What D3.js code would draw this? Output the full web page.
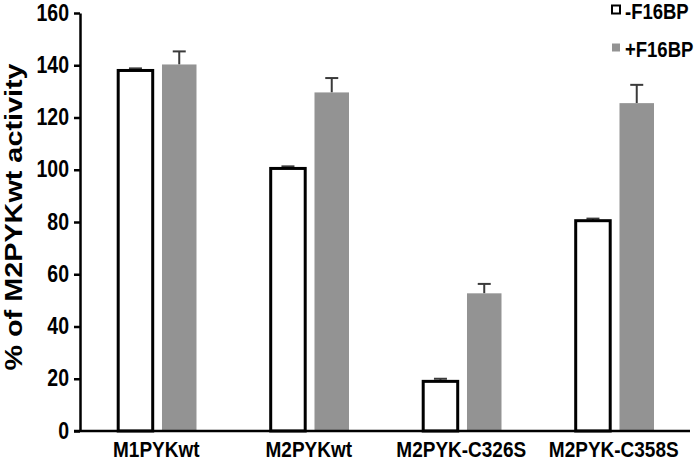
<!DOCTYPE html>
<html>
<head>
<meta charset="utf-8">
<script src="https://cdn.jsdelivr.net/npm/d3@7"></script>
<style>
  html, body { margin: 0; padding: 0; background: #fff; }
  svg text { font-family: "Liberation Sans", Arial, sans-serif; font-weight: bold; fill: #000; }
</style>
</head>
<body>
<svg id="chart" width="700" height="463"></svg>
<script>
const categories = ["M1PYKwt", "M2PYKwt", "M2PYK-C326S", "M2PYK-C358S"];
const seriesNames = ["-F16BP", "+F16BP"];
const minusValues = [138, 100.5, 19, 80.5];
const minusErrors = [0.8, 0.8, 1, 0.8];
const plusValues = [140.3, 129.6, 52.7, 125.5];
const plusErrors = [5, 5.5, 3.6, 7];
const yTicks = [0, 20, 40, 60, 80, 100, 120, 140, 160];
const yTitle = "% of M2PYKwt activity";

const svg = d3.select("#chart");
const mLeft = 80, mRight = 690, mTop = 13, mBottom = 431;
const STRETCH = 1.2;
const FONT = "Liberation Sans, Arial, sans-serif";

const x0 = d3.scaleBand().domain(categories).range([mLeft, mRight]).padding(0);
const x1 = d3.scaleBand().domain(seriesNames).range([38.2, 116.5]).paddingInner(0.212).paddingOuter(0);
const y = d3.scaleLinear().domain([0, 160]).range([mBottom, mTop]);

const rows = [];
categories.forEach((c, i) => {
  rows.push({cat: c, s: seriesNames[0], v: minusValues[i], e: minusErrors[i]});
  rows.push({cat: c, s: seriesNames[1], v: plusValues[i], e: plusErrors[i]});
});

// error bars (drawn behind bars)
const eg = svg.append("g");
rows.forEach(d => {
  const cx = x0(d.cat) + x1(d.s) + x1.bandwidth() / 2;
  eg.append("line").attr("x1", cx).attr("x2", cx)
    .attr("y1", y(d.v)).attr("y2", y(d.v + d.e))
    .attr("stroke", "#3a3a3a").attr("stroke-width", 2);
  eg.append("line").attr("x1", cx - 6.5).attr("x2", cx + 6.5)
    .attr("y1", y(d.v + d.e)).attr("y2", y(d.v + d.e))
    .attr("stroke", "#3a3a3a").attr("stroke-width", 2);
});

// bars
svg.append("g").selectAll("rect").data(rows).join("rect")
  .attr("x", d => x0(d.cat) + x1(d.s))
  .attr("width", x1.bandwidth())
  .attr("y", d => y(d.v))
  .attr("height", d => y(0) - y(d.v))
  .attr("fill", d => d.s === seriesNames[0] ? "#ffffff" : "#939393")
  .attr("stroke", d => d.s === seriesNames[0] ? "#000" : "none")
  .attr("stroke-width", 3);

// y axis
const ya = svg.append("g").attr("transform", `translate(${mLeft},0)`)
  .call(d3.axisLeft(y).tickValues(yTicks).tickSize(6).tickSizeOuter(0).tickPadding(5));
ya.select(".domain").attr("stroke", "#000").attr("stroke-width", 2.5);
ya.selectAll(".tick line").attr("stroke", "#000").attr("stroke-width", 2.5);
ya.selectAll(".tick text")
  .style("font-size", "19.5px").style("font-family", FONT).style("font-weight", "bold").attr("fill", "#000")
  .attr("dy", "0.30em")
  .attr("transform", `scale(1,${STRETCH})`);

// x axis
const xa = svg.append("g").attr("transform", `translate(0,${mBottom})`)
  .call(d3.axisBottom(x0).tickSize(0).tickPadding(0).tickSizeOuter(0));
xa.select(".domain").attr("d", `M${mLeft - 6},0H${mRight}`).attr("stroke", "#000").attr("stroke-width", 2.5);
xa.selectAll(".tick text")
  .style("font-size", "19px").style("font-family", FONT).style("font-weight", "bold").attr("fill", "#000")
  .attr("y", 0).attr("dy", 0)
  .attr("transform", `translate(0,26) scale(1,${STRETCH})`);

// y title
svg.append("text")
  .attr("transform", `translate(22,217) rotate(-90) scale(${STRETCH},1)`)
  .attr("text-anchor", "middle")
  .style("font-size", "24px")
  .text(yTitle);

// legend
const lg = svg.append("g");
seriesNames.forEach((s, i) => {
  const yy = 19 + i * 38;
  lg.append("rect").attr("x", 612).attr("y", yy - 13.5).attr("width", 8).attr("height", 8)
    .attr("fill", i === 0 ? "#fff" : "#939393")
    .attr("stroke", i === 0 ? "#000" : "none").attr("stroke-width", 2);
  lg.append("text").attr("transform", `translate(625,${yy}) scale(1,${STRETCH})`)
    .style("font-size", "18.5px").text(s);
});
</script>
</body>
</html>
